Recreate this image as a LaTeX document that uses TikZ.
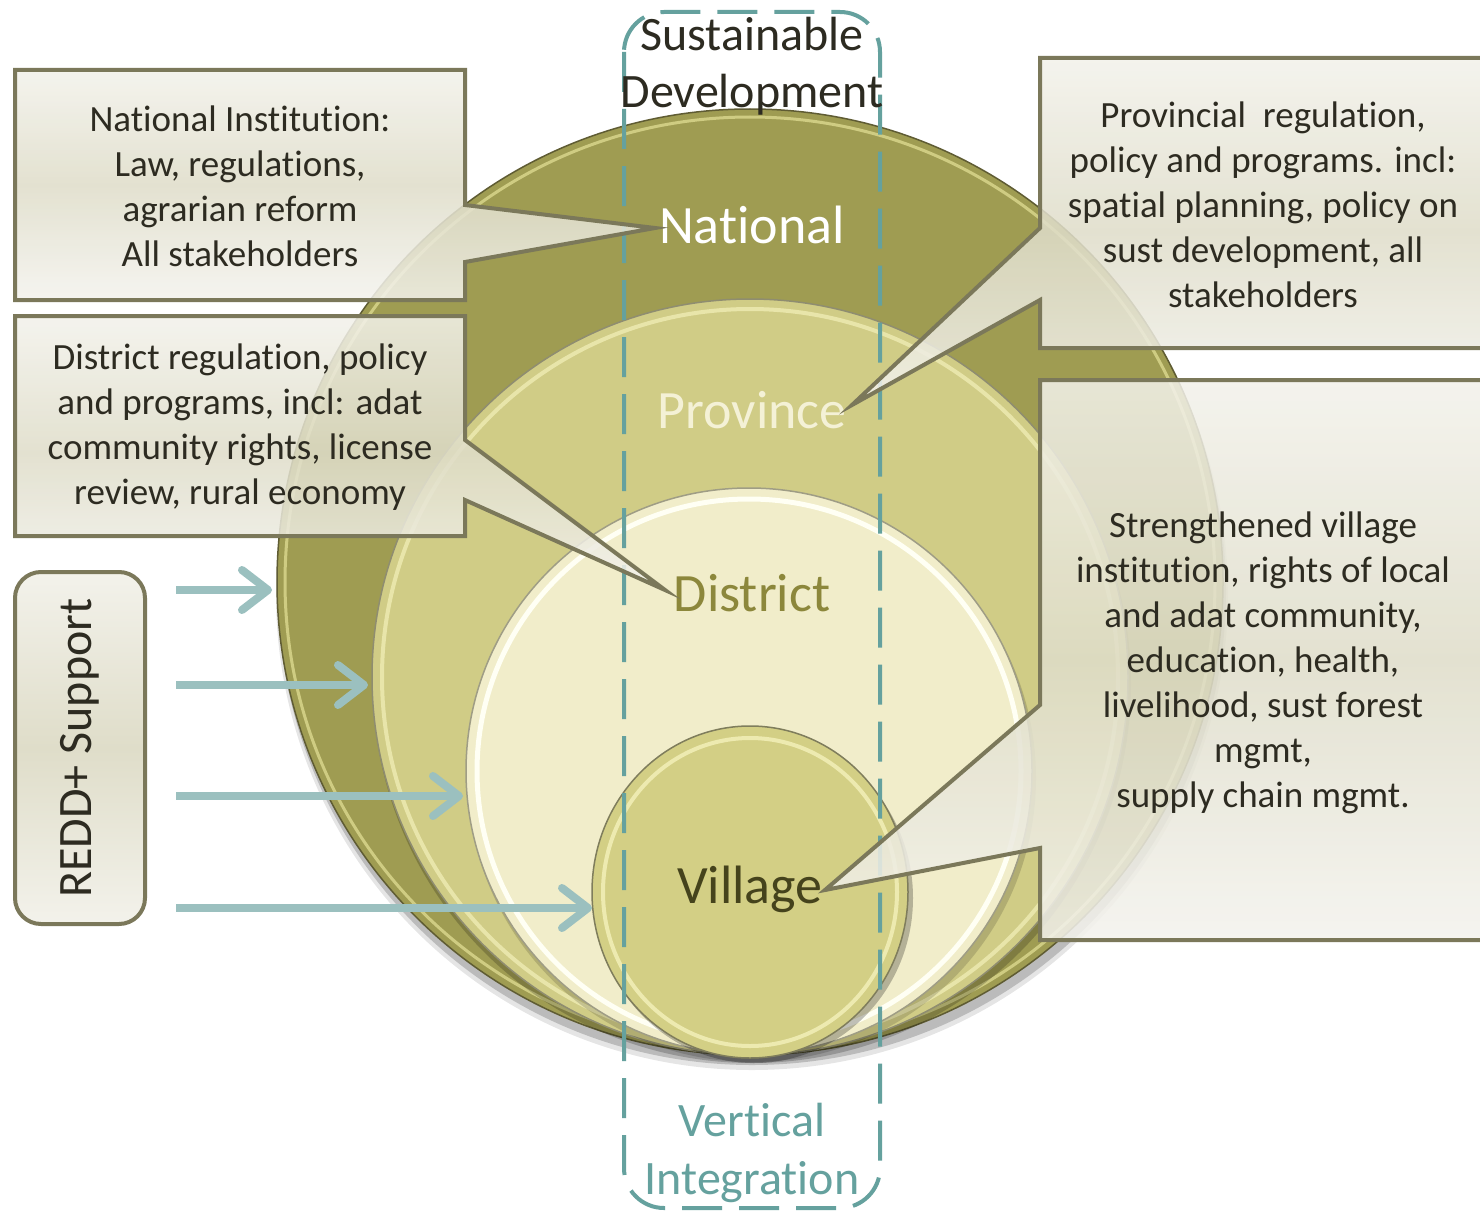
\documentclass[tikz,border=0pt]{standalone}
\usepackage{fontspec}
\setmainfont{Carlito}[Ligatures=NoCommon]
\usetikzlibrary{arrows.meta,shapes.geometric}
\definecolor{natc}{HTML}{9F9C52}
\definecolor{natrim}{HTML}{DCD98F}
\definecolor{provc}{HTML}{D0CC86}
\definecolor{provrim}{HTML}{EFECB4}
\definecolor{distc}{HTML}{F1EDCA}
\definecolor{distrim}{HTML}{FFFFF4}
\definecolor{vilc}{HTML}{D3CF85}
\definecolor{vilrim}{HTML}{F0EDB5}
\definecolor{edgec}{HTML}{5F5C33}
\definecolor{boxline}{HTML}{7B785A}
\definecolor{boxtop}{HTML}{F3F2EB}
\definecolor{boxmid}{HTML}{DFDDC9}
\definecolor{boxbot}{HTML}{F4F3EE}
\definecolor{tealc}{HTML}{65A19E}
\definecolor{arrc}{HTML}{9BC0BF}
\definecolor{txtc}{HTML}{2D2B21}
\definecolor{distt}{HTML}{8C873B}
\definecolor{vilt}{HTML}{45431C}
\definecolor{provt}{HTML}{F4F1D6}
\tikzset{
  lvl/.style={circle, inner sep=0pt, minimum size=#1},
  callout/.style={draw=boxline, line width=4pt, line join=miter, top color=boxtop, bottom color=boxbot, middle color=boxmid, fill opacity=0.86},
  boxtxt/.style={text=txtc, align=center, font=\fontsize{37}{45}\selectfont},
  lvltxt/.style={font=\fontsize{54}{60}\selectfont},
  support/.style={draw=arrc, line width=8pt, -{Straight Barb[length=26pt,width=40pt,line width=8pt,round]}},
}
\begin{document}
\begin{tikzpicture}[x=1pt,y=-1pt]
\useasboundingbox (0,0) rectangle (1480,1212);
\fill[white] (0,0) rectangle (1480,1212);

% shadows
\fill[black, opacity=0.18] (752,591) circle (474);
\fill[black, opacity=0.10] (752,594) circle (476);

% National circle
\node[lvl=946pt, fill=natc, draw=edgec, line width=1.5pt] (nat) at (750,582) {};
\draw[natrim, line width=3pt, opacity=0.8] (750,582) circle (465);
% Province circle
\fill[black, opacity=0.2] (752,684) circle (379);
\node[lvl=756pt, fill=provc, draw=edgec!70, line width=1.5pt] (prov) at (750,677) {};
\draw[provrim, line width=4pt, opacity=0.8] (750,677) circle (368);
% District circle
\fill[black, opacity=0.15] (752,778) circle (284);
\node[lvl=566pt, fill=distc, draw=edgec!60, line width=1.5pt] (dist) at (749,771) {};
\draw[distrim, line width=5pt] (749,771) circle (272);
% Village circle
\fill[black, opacity=0.25] (754,898) ellipse (159 and 165);
\node[ellipse, inner sep=0pt, minimum width=316pt, minimum height=332pt, fill=vilc, draw=edgec!80, line width=1.5pt] (vil) at (750,892) {};
\draw[vilrim, line width=4pt, opacity=0.9] (750,892) ellipse (147 and 154);

% dashed frame
\draw[tealc, line width=4pt, dash pattern=on 40pt off 17pt, rounded corners=40pt] (624,12) rectangle (880,1208);

% level labels
\node[lvltxt, text=white] (natl) at (752,225) {National};
\node[lvltxt, text=provt] (provl) at (752,410) {Province};
\node[lvltxt, text=distt] (distl) at (752,593) {District};
\node[lvltxt, text=vilt] (vill) at (750,889) {Village};

% callouts
\path[callout] (15,70) -- (465,70) -- (465,205) -- (655,228) -- (465,262) -- (465,300) -- (15,300) -- cycle;
\path[callout] (15,316) -- (465,316) -- (465,440) -- (665,590) -- (465,500) -- (465,536) -- (15,536) -- cycle;
\path[callout] (1040,58) -- (1490,58) -- (1490,348) -- (1040,348) -- (1040,300) -- (852,405) -- (1040,228) -- cycle;
\path[callout] (1040,380) -- (1490,380) -- (1490,940) -- (1040,940) -- (1040,848) -- (825,890) -- (1040,705) -- cycle;

\node[boxtxt] (natbox) at (240,186) {National Institution:\\Law, regulations,\\agrarian reform\\All stakeholders};
\node[boxtxt] (distbox) at (240,427) {District regulation, policy\\and programs, incl: adat\\community rights, license\\review, rural economy};
\node[boxtxt] (provbox) at (1263,205) {Provincial\ \ regulation,\\policy and programs. incl:\\spatial planning, policy on\\sust development, all\\stakeholders};
\node[boxtxt] (vilbox) at (1263,663) {Strengthened village\\institution, rights of local\\and adat community,\\education, health,\\livelihood, sust forest\\mgmt,\\supply chain mgmt.};

% titles
\node[text=txtc, align=center, font=\fontsize{48}{57}\selectfont] (sd) at (752,66) {Sustainable\\Development};
\node[text=tealc, align=center, font=\fontsize{48}{58}\selectfont] (vi) at (752,1153) {Vertical\\Integration};

% REDD+ support box
\node[draw=boxline, line width=4pt, rounded corners=26pt, top color=boxtop, bottom color=boxtop, middle color=boxmid, minimum width=352pt, minimum height=130pt, rotate=90, text=txtc, font=\fontsize{48}{52}\selectfont] (redd) at (80,748) {REDD+ Support};

% arrows
\coordinate (a1) at (176,590); \coordinate (b1) at (272,590);
\coordinate (a2) at (176,685); \coordinate (b2) at (368,685);
\coordinate (a3) at (176,796); \coordinate (b3) at (463,796);
\coordinate (a4) at (176,908); \coordinate (b4) at (592,908);
\draw[support] (a1) -- (b1);
\draw[support] (a2) -- (b2);
\draw[support] (a3) -- (b3);
\draw[support] (a4) -- (b4);
\end{tikzpicture}
\end{document}
